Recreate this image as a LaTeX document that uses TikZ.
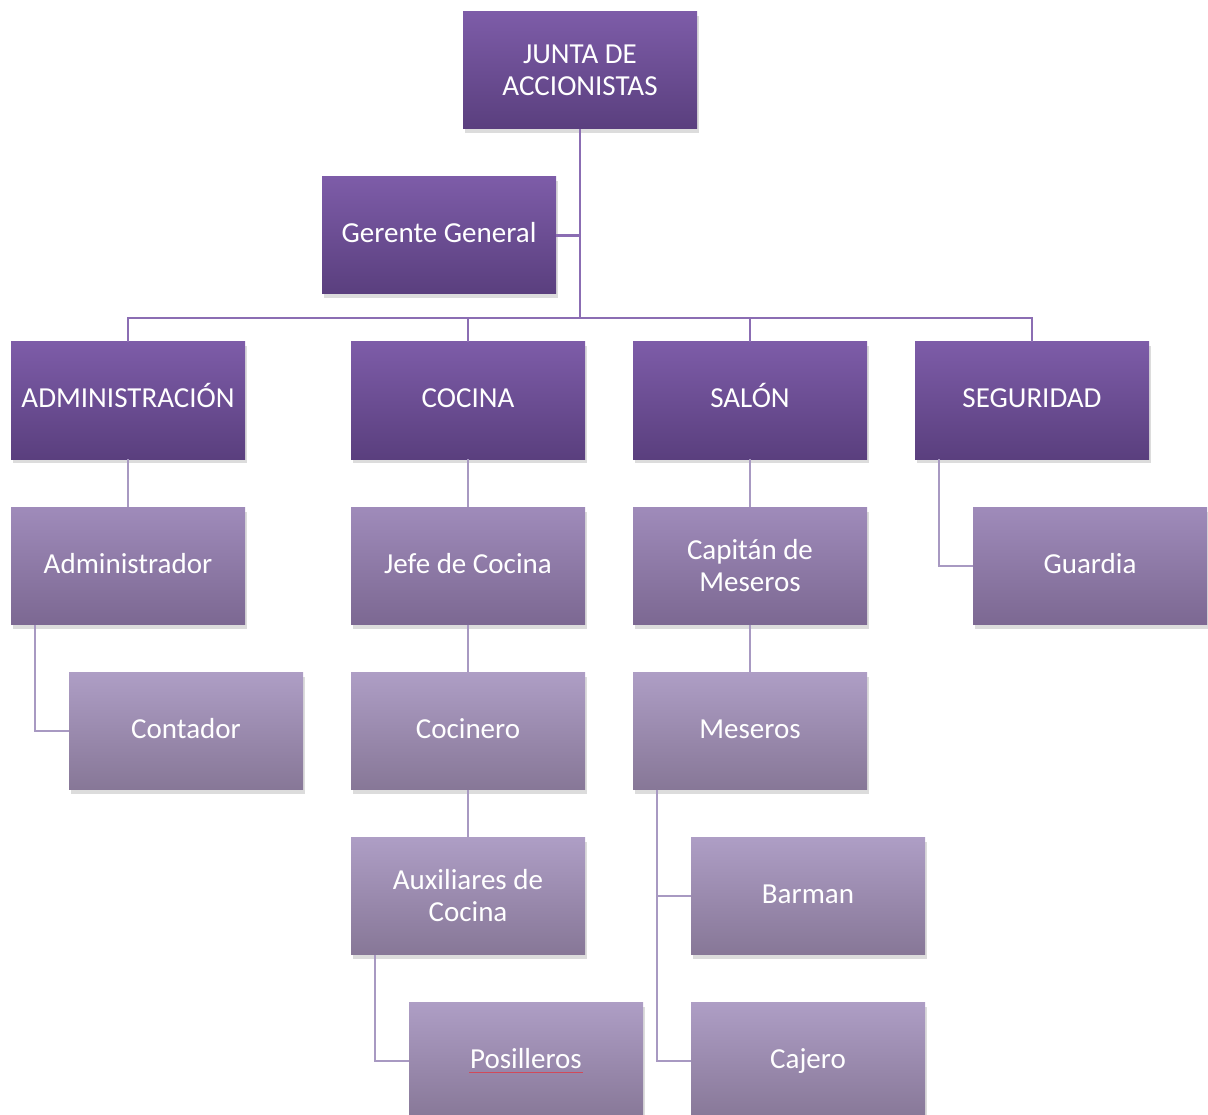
\documentclass[tikz,border=0pt]{standalone}
\usepackage{fontspec}
\setmainfont{Carlito}
\usetikzlibrary{shadows}
\definecolor{topA}{HTML}{7D5CA8}
\definecolor{botA}{HTML}{5A3F7E}
\definecolor{topB}{HTML}{9F8BBA}
\definecolor{botB}{HTML}{7C6892}
\definecolor{topC}{HTML}{AE9EC5}
\definecolor{botC}{HTML}{877797}
\definecolor{lineA}{HTML}{8B6DB3}
\definecolor{lineB}{HTML}{A899C2}
\definecolor{spell}{HTML}{D04A5A}
\tikzset{
  box/.style={rectangle, minimum width=234pt, minimum height=117pt, inner sep=2pt,
    align=center, text=white, font=\fontsize{29}{32}\selectfont,
    drop shadow={opacity=0.28, shadow xshift=2pt, shadow yshift=-4pt}},
  one/.style={text height=20pt, text depth=6pt},
  lvA/.style={box, top color=topA, bottom color=botA},
  lvB/.style={box, top color=topB, bottom color=botB},
  lvC/.style={box, top color=topC, bottom color=botC},
  conA/.style={draw=lineA, line width=2.2pt},
  conB/.style={draw=lineB, line width=2.2pt},
}
\begin{document}
\begin{tikzpicture}[x=1pt,y=-1pt]
\useasboundingbox (0,0) rectangle (1208,1115);
\coordinate (hub) at (580,318);
\node[lvA] (junta) at (580,70.5) {JUNTA DE\\ACCIONISTAS};
\node[lvA,one] (gerente) at (439,235.5) {Gerente General};
\node[lvA,one] (admin) at (128,400.5) {ADMINISTRACIÓN};
\node[lvA,one] (cocina) at (468,400.5) {COCINA};
\node[lvA,one] (salon) at (750,400.5) {SALÓN};
\node[lvA,one] (seg) at (1032,400.5) {SEGURIDAD};
\node[lvB,one] (adm2) at (128,566) {Administrador};
\node[lvB,one] (jefe) at (468,566) {Jefe de Cocina};
\node[lvB] (capitan) at (750,566) {Capitán de\\Meseros};
\node[lvB,one] (guardia) at (1090,566) {Guardia};
\node[lvC,one] (contador) at (186,731) {Contador};
\node[lvC,one] (cocinero) at (468,731) {Cocinero};
\node[lvC,one] (meseros) at (750,731) {Meseros};
\node[lvC] (aux) at (468,896) {Auxiliares de\\Cocina};
\node[lvC,one] (barman) at (808,896) {Barman};
\node[lvC,one] (posill) at (526,1061) {Posilleros};
\node[lvC,one] (cajero) at (808,1061) {Cajero};
% top-level connectors
\draw[conA] (junta.south) -- (hub);
\draw[conA] (gerente.east) -- (gerente.east -| hub);
\draw[conA] (admin.north) |- (hub) -| (seg.north);
\draw[conA] (cocina.north) -- (cocina.north |- hub);
\draw[conA] (salon.north) -- (salon.north |- hub);
% lower connectors
\draw[conB] (admin.south) -- (adm2.north);
\draw[conB] (cocina.south) -- (jefe.north);
\draw[conB] (salon.south) -- (capitan.north);
\draw[conB] ([xshift=24pt]seg.south west) |- (guardia.west);
\draw[conB] ([xshift=24pt]adm2.south west) |- (contador.west);
\draw[conB] (jefe.south) -- (cocinero.north);
\draw[conB] (capitan.south) -- (meseros.north);
\draw[conB] (cocinero.south) -- (aux.north);
\draw[conB] ([xshift=24pt]aux.south west) |- (posill.west);
\draw[conB] ([xshift=24pt]meseros.south west) |- (barman.west);
\draw[conB] ([xshift=24pt]meseros.south west) |- (cajero.west);
% spell-check underline
\draw[spell, line width=0.9pt] ([xshift=-57pt,yshift=-11pt]posill.center) -- ([xshift=57pt,yshift=-11pt]posill.center);
\end{tikzpicture}
\end{document}
